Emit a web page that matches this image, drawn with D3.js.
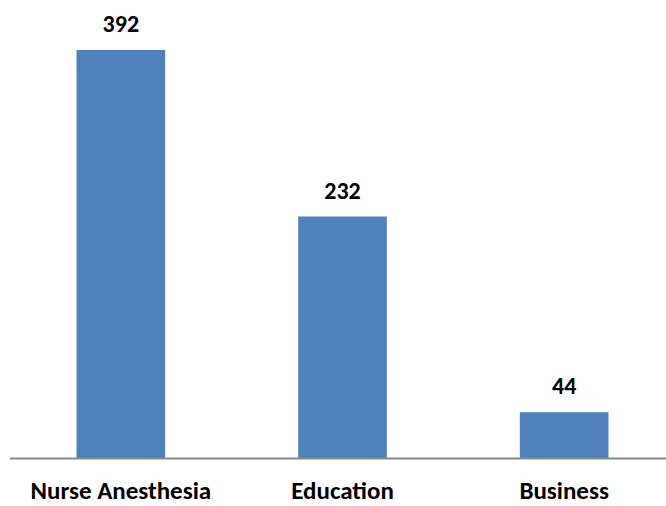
<!DOCTYPE html>
<html>
<head>
<meta charset="utf-8">
<script src="https://cdn.jsdelivr.net/npm/d3@7"></script>
<style>
  body { margin: 0; background: #fff; }
  text { font-family: Carlito, "Liberation Sans Narrow", "Liberation Sans", sans-serif; font-weight: bold; fill: #000; }
</style>
</head>
<body>
<div id="chart"></div>
<script>
// data
const programs = ["Nurse Anesthesia", "Education", "Business"];
const counts = [392, 232, 44];

const width = 666;
const height = 506;
const baseY = 458;

// x scale: one band per program, bars about 40% of the band
const x = d3.scaleBand()
    .domain(programs)
    .range([10, 675])
    .paddingInner(0.6)
    .paddingOuter(0.3);

const y = d3.scaleLinear().domain([0, 440]).range([baseY, 0]);

const svg = d3.select("#chart").append("svg")
    .attr("width", width)
    .attr("height", height);

// bars
svg.append("g")
  .selectAll("rect")
  .data(programs)
  .join("rect")
    .attr("x", d => x(d))
    .attr("y", (d, i) => y(counts[i]))
    .attr("width", x.bandwidth())
    .attr("height", (d, i) => baseY - y(counts[i]))
    .attr("fill", "#4F81BD");

// value labels above the bars
svg.append("g")
  .selectAll("text")
  .data(programs)
  .join("text")
    .attr("x", d => x(d) + x.bandwidth() / 2)
    .attr("y", (d, i) => y(counts[i]) - 18)
    .attr("text-anchor", "middle")
    .attr("font-size", 24)
    .text((d, i) => counts[i]);

// x axis: just a line plus labels
const xAxis = g => g
    .attr("transform", `translate(0,${baseY})`)
    .call(d3.axisBottom(x).tickSize(0))
    .call(g => g.select(".domain").attr("d", "M10,0.5H666").attr("stroke", "#888").attr("stroke-width", 2))
    .call(g => g.selectAll(".tick text")
        .attr("font-size", 25)
        .attr("font-family", null)
        .attr("y", 41)
        .attr("dy", null));

svg.append("g").attr("class", "x axis").call(xAxis);
</script>
</body>
</html>
